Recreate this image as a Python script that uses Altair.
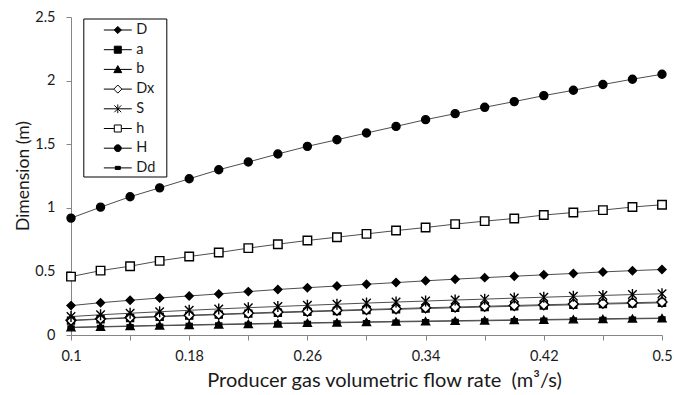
import altair as alt
import pandas as pd

# ---------------- data ----------------
series = ["D", "a", "b", "Dx", "S", "h", "H", "Dd"]
flow_rate = [0.10, 0.12, 0.14, 0.16, 0.18, 0.20, 0.22, 0.24, 0.26, 0.28, 0.30,
             0.32, 0.34, 0.36, 0.38, 0.40, 0.42, 0.44, 0.46, 0.48, 0.50]

D_vals = [0.231, 0.254, 0.273, 0.291, 0.307, 0.323, 0.341, 0.358, 0.372, 0.385, 0.399,
          0.412, 0.426, 0.439, 0.451, 0.462, 0.473, 0.484, 0.496, 0.506, 0.515]
a_vals = [0.113, 0.124, 0.134, 0.143, 0.152, 0.160, 0.168, 0.175, 0.182, 0.189, 0.196,
          0.202, 0.208, 0.214, 0.220, 0.226, 0.232, 0.237, 0.243, 0.248, 0.253]
b_vals = [0.058, 0.063, 0.068, 0.073, 0.077, 0.081, 0.085, 0.089, 0.093, 0.096, 0.100,
          0.103, 0.106, 0.109, 0.112, 0.115, 0.118, 0.121, 0.124, 0.127, 0.130]
Dx_vals = [0.116, 0.127, 0.137, 0.147, 0.156, 0.164, 0.172, 0.180, 0.187, 0.194, 0.201,
           0.207, 0.214, 0.220, 0.226, 0.232, 0.238, 0.243, 0.249, 0.254, 0.259]
S_vals = [0.145, 0.159, 0.171, 0.183, 0.194, 0.205, 0.215, 0.224, 0.233, 0.242, 0.251,
          0.259, 0.267, 0.275, 0.282, 0.290, 0.297, 0.304, 0.311, 0.318, 0.324]
h_vals = [0.459, 0.506, 0.541, 0.583, 0.617, 0.648, 0.683, 0.714, 0.743, 0.769, 0.795,
          0.821, 0.845, 0.872, 0.895, 0.916, 0.943, 0.963, 0.982, 1.006, 1.024]
H_vals = [0.919, 1.005, 1.087, 1.157, 1.228, 1.299, 1.360, 1.423, 1.483, 1.535, 1.588,
          1.640, 1.693, 1.740, 1.790, 1.835, 1.882, 1.924, 1.969, 2.011, 2.050]
Dd_vals = [0.061, 0.066, 0.071, 0.076, 0.080, 0.085, 0.089, 0.093, 0.096, 0.100, 0.103,
           0.107, 0.110, 0.113, 0.116, 0.119, 0.122, 0.125, 0.128, 0.131, 0.133]

x_ticks = [0.10, 0.14, 0.18, 0.22, 0.26, 0.30, 0.34, 0.38, 0.42, 0.46, 0.50]
y_ticks = [0, 0.5, 1, 1.5, 2, 2.5]

x_title = "Producer gas volumetric flow rate\u00a0 (m³/s)"
y_title = "Dimension (m)"

all_vals = [D_vals, a_vals, b_vals, Dx_vals, S_vals, h_vals, H_vals, Dd_vals]
rows = []
for name, vals in zip(series, all_vals):
    for q, v in zip(flow_rate, vals):
        rows.append({"series": name, "q": q, "dim": v})
df = pd.DataFrame(rows)

# ---------------- marker styles ----------------
fills = ["black", "black", "black", "white", "white", "white", "black", "black"]
strokes = ["black"] * 8

# chart markers (size 100 -> 1 unit = 5 px)
chart_shapes = [
    "M0,-0.8L0.8,0L0,0.8L-0.8,0Z",
    "M-0.7,-0.7H0.7V0.7H-0.7Z",
    "M0,-0.75L0.8,0.65H-0.8Z",
    "M0,-1L1,0L0,1L-1,0Z",
    "M-0.85,-0.85L0.85,0.85M-0.85,0.85L0.85,-0.85M0,-1.1V1.1",
    "M-0.85,-0.85H0.85V0.85H-0.85Z",
    "M0.8,0A0.8,0.8,0,1,1,-0.8,0A0.8,0.8,0,1,1,0.8,0Z",
    "M-0.6,-0.25H0.6V0.25H-0.6Z",
]

# legend symbols (size 324 -> 1 unit = 9 px), with line segment
L = 1.55
legend_shapes = [
    f"M-{L},0H{L}M0,-0.4L0.4,0L0,0.4L-0.4,0Z",
    f"M-{L},0H{L}M-0.39,-0.39H0.39V0.39H-0.39Z",
    f"M-{L},0H{L}M0,-0.42L0.44,0.36H-0.44Z",
    f"M-{L},0H-0.45M0.45,0H{L}M0,-0.45L0.45,0L0,0.45L-0.45,0Z",
    f"M-{L},0H{L}M-0.38,-0.38L0.38,0.38M-0.38,0.38L0.38,-0.38M0,-0.48V0.48",
    f"M-{L},0H-0.39M0.39,0H{L}M-0.39,-0.39H0.39V0.39H-0.39Z",
    f"M-{L},0H{L}M0.38,0A0.38,0.38,0,1,1,-0.38,0A0.38,0.38,0,1,1,0.38,0Z",
    f"M-{L},0H{L}M-0.28,-0.17H0.28V0.17H-0.28Z",
]

FONT = "Lato"
AX = "#868686"
TXT = "#1a1a1a"

x_enc = alt.X(
    "q:Q",
    scale=alt.Scale(domain=[0.1, 0.5], nice=False, zero=False),
    axis=alt.Axis(
        values=x_ticks, format=".2~f",
        labelExpr="round(datum.value*100) % 8 == 2 ? datum.label : ''",
        grid=False, tickSize=5, labelPadding=9, labelFlush=False, labelOverlap=False,
        title=x_title, titleX=313, titleY=51, titleAlign="center",
        titleBaseline="alphabetic", titleFontSize=20,
    ),
)
y_enc = alt.Y(
    "dim:Q",
    scale=alt.Scale(domain=[0, 2.5], nice=False),
    axis=alt.Axis(
        values=y_ticks, format="~g", grid=False, tickSize=5, labelPadding=11,
        labelFlush=False, labelOverlap=False,
        title=y_title, titleX=-47.5, titleY=158.5, titleBaseline="middle",
        titleAlign="center", titleAngle=270, titleFontSize=17.5,
    ),
)

base = alt.Chart(df)

lines = base.mark_line(color="#4d4d4d", strokeWidth=1).encode(
    x=x_enc, y=y_enc, detail="series:N", order="q:Q"
)

points = base.mark_point(size=100, opacity=1, strokeWidth=1.4).encode(
    x="q:Q",
    y="dim:Q",
    shape=alt.Shape("series:N", scale=alt.Scale(domain=series, range=chart_shapes), legend=None),
    fill=alt.Fill("series:N", scale=alt.Scale(domain=series, range=fills), legend=None),
    stroke=alt.value("black"),
)


def make_legend():
    # an invisible title on the right only adds the wider right margin of the box
    return alt.Legend(
        title="I", titleOrient="right", titleOpacity=0, titleFontSize=10,
        titlePadding=6,
        orient="none", legendX=12.3, legendY=1.5,
        symbolSize=324, symbolOffset=23, labelOffset=9, padding=2,
        rowPadding=3.7, strokeColor="black", fillColor="white",
        labelFont=FONT, labelFontSize=14.5, labelColor=TXT,
        symbolStrokeWidth=1,
    )


legend_layer = base.transform_filter("false").mark_point(opacity=1, strokeWidth=1, size=324).encode(
    x="q:Q",
    y="dim:Q",
    shape=alt.Shape("series:N", scale=alt.Scale(domain=series, range=legend_shapes), legend=make_legend()),
    fill=alt.Fill("series:N", scale=alt.Scale(domain=series, range=fills), legend=make_legend()),
    stroke=alt.Stroke("series:N", scale=alt.Scale(domain=series, range=strokes), legend=make_legend()),
)

chart = (
    alt.layer(lines, points, legend_layer)
    .resolve_scale(shape="independent", fill="independent", stroke="independent")
    .properties(
        width=591, height=318,
        autosize=alt.AutoSizeParams(type="none"),
        padding={"left": 71, "top": 17, "right": 12, "bottom": 60},
        background="white",
    )
    .configure_view(stroke=None)
    .configure_axis(
        domainColor=AX, tickColor=AX, domainWidth=1, tickWidth=1,
        labelFont=FONT, labelFontSize=14.5, labelColor=TXT,
        titleFont=FONT, titleFontSize=17, titleFontWeight="normal", titleColor=TXT,
    )
)

chart.save("out.html", embed_options={"renderer": "svg", "actions": False})
